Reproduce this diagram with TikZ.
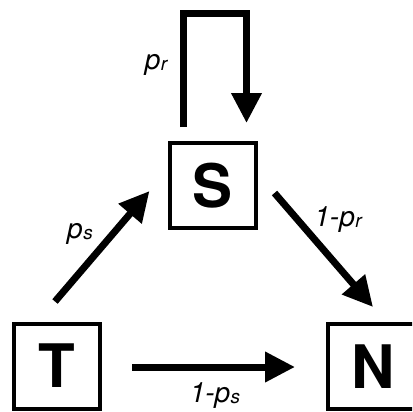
\documentclass[tikz,border=0pt]{standalone}
\usepackage{fontspec}
\setmainfont{TeX Gyre Heros}
\usetikzlibrary{arrows.meta,calc}
% small subscript that stays close to the baseline
\newcommand\lowsub[1]{\kern0.5pt{\fontsize{19}{19}\selectfont\raisebox{-1pt}{#1}}}

\begin{document}
\begin{tikzpicture}[x=1pt,y=-1pt,
  state/.style={draw,line width=4pt,minimum width=86pt,minimum height=85pt,
    inner sep=0pt,font=\fontsize{60}{60}\selectfont\bfseries},
  link/.style={line width=7pt,line join=miter,-{Triangle[length=30pt,width=29pt]}},
  lbl/.style={anchor=base,inner sep=0pt,font=\fontsize{28}{28}\selectfont\itshape}]
\useasboundingbox (0,0) rectangle (412,412);
\clip (0,0) rectangle (412,412);

% states
\node[state] (S) at (212.5,185.5) {S};
\node[state] (T) at (57,366) {T};
\node[state,minimum width=91pt] (N) at (373.5,366.5) {N};

% end points of the transitions
\coordinate (loopA) at ($(S.north)+(-29.5,-14)$);
\coordinate (loopB) at ($(S.north)+(34,-18)$);
\coordinate (tsA) at ($(T.north)+(-2,-20)$);
\coordinate (tsB) at ($(S.south west)+(-18,-39)$);
\coordinate (snA) at ($(S.south east)+(17,-37)$);
\coordinate (snB) at ($(N.north)+(-0.5,-15)$);
\coordinate (tnA) at ($(T.east)+(30,1)$);
\coordinate (tnB) at ($(N.west)+(-31,0.5)$);

% transitions
\draw[link] (loopA) -- ++(0,-113.5) -| (loopB);
\draw[link] (tsA) -- (tsB);
\draw[link] (snA) -- (snB);
\draw[link] (tnA) -- (tnB);

% probabilities
\node[lbl] (lr)  at (156,70)  {p\lowsub{r}};
\node[lbl] (ls)  at (80,238)  {p\lowsub{s}};
\node[lbl] (lnr) at (338,226) {1-p\lowsub{r}};
\node[lbl] (lns) at (215,402) {1-p\lowsub{s}};
\end{tikzpicture}
\end{document}
